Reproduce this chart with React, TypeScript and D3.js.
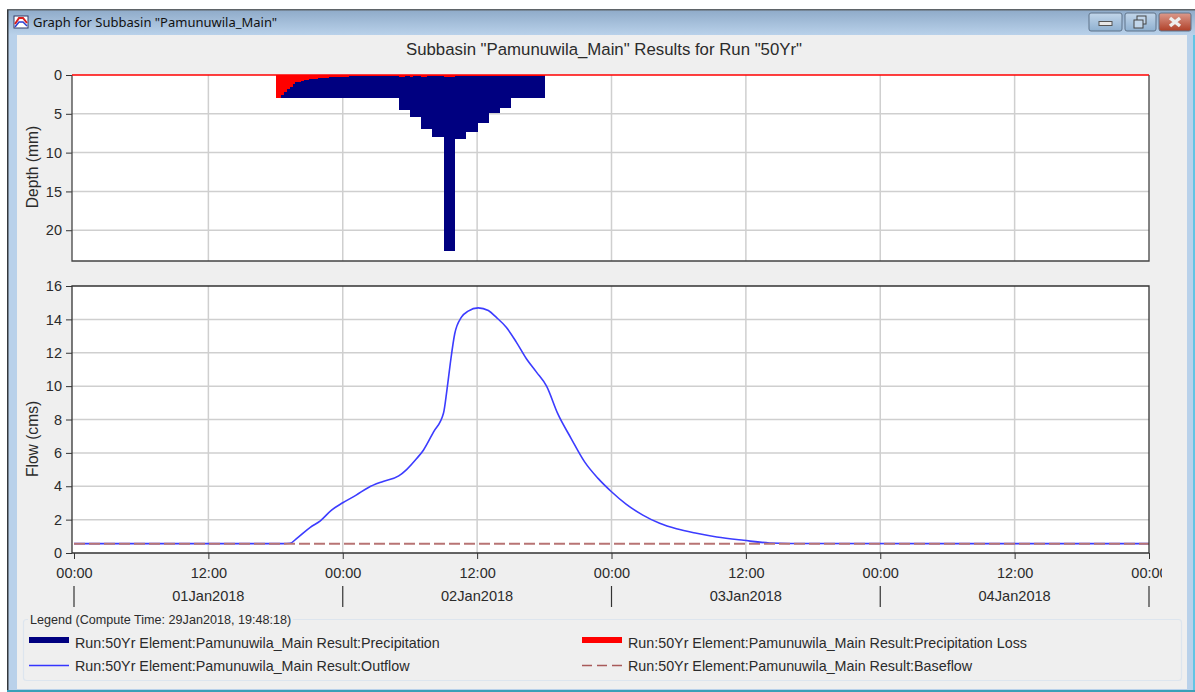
import { useEffect, useRef } from 'react';
import * as d3 from 'd3';

const WINDOW_TITLE = 'Graph for Subbasin "Pamunuwila_Main"';
const CHART_TITLE = 'Subbasin "Pamunuwila_Main" Results for Run "50Yr"';
const LEGEND_TITLE = 'Legend (Compute Time: 29Jan2018, 19:48:18)';

const depthTicks = [0, 5, 10, 15, 20];
const flowTicks = [0, 2, 4, 6, 8, 10, 12, 14, 16];

// hourly precipitation depth (mm), first bar starts 18:00 on 01Jan
const precipDepth = [
  2.9, 2.9, 2.9, 2.9, 2.9, 2.9, 2.9, 2.9, 2.9, 2.9, 2.9, 4.5,
  5.4, 7.0, 8.0, 22.7, 8.2, 7.3, 6.15, 4.95, 4.2, 2.9, 2.9, 2.9,
];

// quarter-hour loss depth (mm), same start
const lossDepth = [
  2.9, 2.9, 2.6, 2.2, 1.85, 1.55, 1.2, 0.95, 0.85, 0.75, 0.65, 0.58,
  0.55, 0.5, 0.47, 0.44, 0.4, 0.37, 0.33, 0.3, 0.28, 0.26, 0.24, 0.22,
  0.2, 0.2, 0.18, 0.18, 0.16, 0.16, 0.14, 0.14, 0.12, 0.12, 0.1, 0.1,
  0.08, 0.08, 0.08, 0.08, 0.08, 0.08, 0.08, 0.08, 0.25, 0.25, 0.08, 0.08,
  0.25, 0.08, 0.08, 0.08, 0.25, 0.25, 0.08, 0.08, 0.08, 0.08, 0.08, 0.08,
  0.25, 0.25, 0.25, 0.25, 0.08, 0.08, 0.08, 0.08, 0.08, 0.08, 0.08, 0.08,
  0.08, 0.08, 0.08, 0.08, 0.08, 0.08, 0.08, 0.08, 0.08, 0.08, 0.08, 0.08,
  0.08, 0.08, 0.08, 0.08, 0.08, 0.08, 0.08, 0.08, 0.08, 0.08, 0.08, 0.08,
];

// hours since 01Jan 00:00
const outflowHours = [
  0, 18.7, 19.3, 19.9, 21.1, 22, 23, 24, 25.2, 26.3, 27.6, 29, 29.7, 30.6,
  31.2, 32.1, 33, 33.3, 33.6, 34, 34.6, 35.2, 36.1, 37, 37.7, 38.6, 39.5,
  40.4, 41.3, 42.2, 43.2, 44.4, 45.6, 46.8, 48, 49.3, 50.8, 52.3, 53.8,
  55.6, 57.4, 59.8, 62.1, 63.9, 96,
];
const outflowCms = [
  0.56, 0.56, 0.58, 0.88, 1.54, 1.93, 2.57, 3.01, 3.47, 3.93, 4.29, 4.62, 5.0,
  5.66, 6.16, 7.25, 8.39, 9.75, 11.34, 13.14, 14.13, 14.49, 14.69, 14.53,
  14.13, 13.53, 12.64, 11.64, 10.84, 10.0, 8.35, 6.86, 5.46, 4.47, 3.67, 2.93,
  2.27, 1.78, 1.45, 1.18, 0.96, 0.76, 0.6, 0.57, 0.56,
];
const baseflowCms = [0.56, 0.56];
const baseflowHours = [0, 96];

const timeTickHours = [0, 12, 24, 36, 48, 60, 72, 84, 96];
const dayEdgeHours = [0, 24, 48, 72, 96];
const dayLabelHours = [12, 36, 60, 84];

const legendLeft = [
  { label: 'Run:50Yr Element:Pamunuwila_Main Result:Precipitation', color: '#000080', w: 6, dash: null },
  { label: 'Run:50Yr Element:Pamunuwila_Main Result:Outflow', color: '#3535ff', w: 1.4, dash: null },
];
const legendRight = [
  { label: 'Run:50Yr Element:Pamunuwila_Main Result:Precipitation Loss', color: '#ff0000', w: 6, dash: null },
  { label: 'Run:50Yr Element:Pamunuwila_Main Result:Baseflow', color: '#a85a5a', w: 1.4, dash: '10 5' },
];

const START = Date.UTC(2018, 0, 1);
const toDate = (h: number) => new Date(START + h * 3600000);
const FONT = '"Liberation Sans", Arial, sans-serif';
const TEXT = '#2b2b2b';
const GRID = '#cfcfcf';

export default function App() {
  const svgRef = useRef<SVGSVGElement>(null);

  useEffect(() => {
    const svg = d3.select(svgRef.current);
    svg.selectAll('*').remove();

    const defs = svg.append('defs');
    const bar = defs.append('linearGradient').attr('id', 'titleBar').attr('x1', 0).attr('x2', 0).attr('y1', 0).attr('y2', 1);
    bar.append('stop').attr('offset', 0).attr('stop-color', '#8fabc9');
    bar.append('stop').attr('offset', 1).attr('stop-color', '#b9d1ea');
    defs.append('clipPath').attr('id', 'labelClip').append('rect').attr('x', 17).attr('y', -10).attr('width', 1145).attr('height', 40);

    // Window chrome
    svg.append('rect').attr('x', 7).attr('y', 10).attr('width', 1188).attr('height', 681).attr('fill', '#b9d1ea');
    svg.append('rect').attr('x', 7).attr('y', 10).attr('width', 1188).attr('height', 25).attr('fill', 'url(#titleBar)');
    svg.append('rect').attr('x', 7).attr('y', 9).attr('width', 1188).attr('height', 1.5).attr('fill', '#5f6468');
    svg.append('rect').attr('x', 7).attr('y', 10).attr('width', 1.5).attr('height', 681).attr('fill', '#34383c');
    svg.append('rect').attr('x', 7).attr('y', 690).attr('width', 1188).attr('height', 2).attr('fill', '#3aa0b8');
    svg.append('rect').attr('x', 1193).attr('y', 35).attr('width', 2).attr('height', 655).attr('fill', '#62c4e4');
    svg.append('rect').attr('x', 17).attr('y', 35).attr('width', 1170).attr('height', 654).attr('fill', '#efefef');

    // Title bar icon
    const icon = svg.append('g').attr('transform', 'translate(14,16)');
    icon.append('rect').attr('width', 14).attr('height', 12).attr('fill', '#ffffff').attr('stroke', '#333b66');
    icon.append('path').attr('d', 'M1 8 L5 2 L9 2 L13 7').attr('fill', 'none').attr('stroke', '#d81e1e').attr('stroke-width', 2);
    icon.append('path').attr('d', 'M1 11 L5 6 L9 6 L13 10').attr('fill', 'none').attr('stroke', '#2a3fd0').attr('stroke-width', 1.5);

    svg.append('text').attr('x', 33).attr('y', 27).attr('font-family', '"Noto Sans", sans-serif')
      .attr('font-size', 13).attr('fill', '#111').text(WINDOW_TITLE);

    // Window buttons
    const buttons = [
      { x: 1089, w: 33, fill: ['#c2d6ea', '#8fb0d0'] },
      { x: 1125, w: 31, fill: ['#c2d6ea', '#8fb0d0'] },
      { x: 1159, w: 32, fill: ['#dc9a8c', '#b04028'] },
    ];
    buttons.forEach((b, i) => {
      const id = `btn${i}`;
      const g = defs.append('linearGradient').attr('id', id).attr('x1', 0).attr('x2', 0).attr('y1', 0).attr('y2', 1);
      g.append('stop').attr('offset', 0).attr('stop-color', b.fill[0]);
      g.append('stop').attr('offset', 1).attr('stop-color', b.fill[1]);
      svg.append('rect').attr('x', b.x).attr('y', 13).attr('width', b.w).attr('height', 18).attr('rx', 2)
        .attr('fill', `url(#${id})`).attr('stroke', '#5f7389');
    });
    svg.append('rect').attr('x', 1099).attr('y', 21.5).attr('width', 13).attr('height', 4).attr('fill', '#e8e8e8').attr('stroke', '#555');
    svg.append('rect').attr('x', 1137).attr('y', 16).attr('width', 9).attr('height', 8).attr('fill', '#c2d6ea').attr('stroke', '#444');
    svg.append('rect').attr('x', 1134).attr('y', 20).attr('width', 9).attr('height', 8).attr('fill', '#c2d6ea').attr('stroke', '#444');
    svg.append('path').attr('d', 'M1170 18 L1180 26 M1180 18 L1170 26').attr('stroke', '#eeeeee').attr('stroke-width', 3.5);

    svg.append('text').attr('x', 604).attr('y', 55).attr('text-anchor', 'middle').attr('font-family', FONT)
      .attr('font-size', 16.8).attr('fill', TEXT).text(CHART_TITLE);

    const x = d3.scaleUtc().domain([toDate(0), toDate(96)]).range([74, 1149]);
    const yDepth = d3.scaleLinear().domain([0, 23.9]).range([75, 260.5]);
    const yFlow = d3.scaleLinear().domain([0, 16]).range([553, 286]);

    const drawPanel = (top: number, bottom: number, y: d3.ScaleLinear<number, number>, ticks: number[]) => {
      svg.append('rect').attr('x', 72).attr('y', top).attr('width', 1077).attr('height', bottom - top).attr('fill', '#fff');
      const grid = svg.append('g');
      grid.selectAll('line.h').data(ticks.filter((t) => y(t) > top + 1 && y(t) < bottom - 1)).join('line')
        .attr('x1', 72).attr('x2', 1149).attr('y1', (d) => y(d)).attr('y2', (d) => y(d))
        .attr('stroke', GRID).attr('stroke-width', 1.5);
      grid.selectAll('line.v').data(timeTickHours.slice(1, -1)).join('line')
        .attr('x1', (d) => x(toDate(d))).attr('x2', (d) => x(toDate(d))).attr('y1', top).attr('y2', bottom)
        .attr('stroke', GRID).attr('stroke-width', 1.5);
    };
    drawPanel(75, 261, yDepth, depthTicks);
    drawPanel(286, 553, yFlow, flowTicks);

    // Precipitation bars
    svg.append('g').attr('shape-rendering', 'crispEdges').selectAll('rect').data(precipDepth).join('rect')
      .attr('x', (_, i) => x(toDate(18 + i)))
      .attr('width', (_, i) => x(toDate(19 + i)) - x(toDate(18 + i)) + 0.5)
      .attr('y', yDepth(0))
      .attr('height', (d) => yDepth(d) - yDepth(0))
      .attr('fill', '#000080');

    // Loss sits on top of the precipitation
    svg.append('g').attr('shape-rendering', 'crispEdges').selectAll('rect').data(lossDepth).join('rect')
      .attr('x', (_, i) => x(toDate(18 + i / 4)))
      .attr('width', (_, i) => x(toDate(18 + (i + 1) / 4)) - x(toDate(18 + i / 4)) + 0.3)
      .attr('y', yDepth(0))
      .attr('height', (d) => yDepth(d) - yDepth(0))
      .attr('fill', '#ff0000');

    // Flow lines
    const line = d3.line<[number, number]>().x((d) => x(toDate(d[0]))).y((d) => yFlow(d[1])).curve(d3.curveMonotoneX);
    svg.append('path').datum(d3.zip(outflowHours, outflowCms) as [number, number][])
      .attr('d', line).attr('fill', 'none').attr('stroke', '#3c3cff').attr('stroke-width', 1.6);
    svg.append('path').datum(d3.zip(baseflowHours, baseflowCms) as [number, number][])
      .attr('d', line).attr('fill', 'none').attr('stroke', '#b87474').attr('stroke-width', 2).attr('stroke-dasharray', '11 4');

    // Axes
    const styleAxis = (g: any) => {
      g.select('.domain').remove();
      g.selectAll('line').attr('stroke', '#333');
      g.selectAll('text').attr('font-family', FONT).attr('font-size', 14.5).attr('fill', TEXT);
    };
    svg.append('g').attr('transform', 'translate(72,0)')
      .call(d3.axisLeft(yDepth).tickValues(depthTicks).tickSize(6).tickPadding(4)).call(styleAxis);
    svg.append('g').attr('transform', 'translate(72,0)')
      .call(d3.axisLeft(yFlow).tickValues(flowTicks).tickSize(6).tickPadding(4)).call(styleAxis);
    svg.append('g').attr('transform', 'translate(0,553)').attr('clip-path', 'url(#labelClip)')
      .call(d3.axisBottom(x).tickValues(timeTickHours.map(toDate)).tickFormat(d3.utcFormat('%H:%M') as any).tickSize(6).tickPadding(9))
      .call(styleAxis);

    // Panel borders
    svg.append('path').attr('d', 'M72 75 V261 H1149 V75').attr('fill', 'none').attr('stroke', '#444').attr('stroke-width', 1.3);
    svg.append('path').attr('d', 'M72 553 V286 H1149 V553 H72').attr('fill', 'none').attr('stroke', '#333').attr('stroke-width', 1.3);
    svg.append('line').attr('x1', 72).attr('x2', 1149).attr('y1', yDepth(0)).attr('y2', yDepth(0)).attr('stroke', '#ff0000').attr('stroke-width', 1.3);

    // Day band under the time axis
    svg.append('g').selectAll('line').data(dayEdgeHours).join('line')
      .attr('x1', (d) => x(toDate(d))).attr('x2', (d) => x(toDate(d))).attr('y1', 586).attr('y2', 607)
      .attr('stroke', '#333').attr('stroke-width', 1.2);
    svg.append('g').selectAll('text').data(dayLabelHours).join('text')
      .attr('x', (d) => x(toDate(d))).attr('y', 601).attr('text-anchor', 'middle')
      .attr('font-family', FONT).attr('font-size', 14.6).attr('fill', TEXT)
      .text((d) => d3.utcFormat('%d%b%Y')(toDate(d)));

    // Axis titles
    const axisTitle = (label: string, cy: number) =>
      svg.append('text').attr('transform', `translate(37.5,${cy}) rotate(-90)`).attr('text-anchor', 'middle')
        .attr('font-family', FONT).attr('font-size', 15.6).attr('fill', TEXT).text(label);
    axisTitle('Depth (mm)', 167);
    axisTitle('Flow (cms)', 439);

    // Legend box
    svg.append('rect').attr('x', 23.5).attr('y', 619.5).attr('width', 1158).attr('height', 61).attr('rx', 3)
      .attr('fill', 'none').attr('stroke', '#dde5ee').attr('stroke-width', 1.2);
    svg.append('rect').attr('x', 28).attr('y', 612).attr('width', 265).attr('height', 14).attr('fill', '#efefef');
    svg.append('text').attr('x', 30).attr('y', 624).attr('font-family', FONT).attr('font-size', 12.6)
      .attr('fill', TEXT).text(LEGEND_TITLE);

    const drawLegend = (items: typeof legendLeft, x0: number) => {
      items.forEach((item, i) => {
        const cy = i === 0 ? 640 : 665.5;
        const l = svg.append('line').attr('x1', x0).attr('x2', x0 + 40).attr('y1', cy).attr('y2', cy)
          .attr('stroke', item.color).attr('stroke-width', item.w);
        if (item.dash) l.attr('stroke-dasharray', item.dash);
        svg.append('text').attr('x', x0 + 46).attr('y', i === 0 ? 647.5 : 670.5).attr('font-family', FONT)
          .attr('font-size', 14.3).attr('fill', TEXT).text(item.label);
      });
    };
    drawLegend(legendLeft, 29);
    drawLegend(legendRight, 582);
  }, []);

  return (
    <svg
      ref={svgRef}
      width={1195}
      height={692}
      style={{ position: 'absolute', left: 0, top: 0, background: '#fff', display: 'block' }}
    />
  );
}
